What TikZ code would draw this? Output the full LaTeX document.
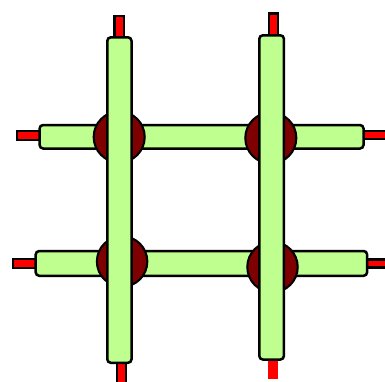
\documentclass[tikz,border=0pt]{standalone}
\definecolor{barfill}{RGB}{191,255,143}
\definecolor{hubfill}{RGB}{127,0,0}
\tikzset{
  x=1pt,y=-1pt,
  outline/.style={draw=black,line width=2.5pt},
  stub/.style={outline,fill=red},
  barstub/.style={fill=red},
  hub/.style={draw=black,line width=2.1pt,fill=hubfill},
  bar/.style={outline,fill=barfill,rounded corners=3.5pt},
}
\begin{document}
\begin{tikzpicture}
\useasboundingbox (0,0) rectangle (385,381);
\clip (0,0) rectangle (385,381);
% stubs
\draw[stub] (114.6,16) rectangle (124.1,40);
\draw[stub] (269,13.6) rectangle (278.1,40);
\draw[stub] (17,131) rectangle (42,140.1);
\draw[stub] (360,131) rectangle (392,139.1);
\draw[stub] (13,259) rectangle (40,268.1);
\draw[stub] (360,259.3) rectangle (392,267.5);
\draw[stub] (117,355) rectangle (126.1,392);
\fill[barstub] (267.7,355) rectangle (278.3,379);
% horizontal bars
\draw[bar] (39.6,125) rectangle (363.5,148.5);
\draw[bar] (35.7,251) rectangle (367.1,275.8);
% hubs
\draw[hub] (119.2,137) circle (25.5);
\draw[hub] (270.8,138) circle (25.5);
\draw[hub] (122.1,261.5) circle (25.2);
\draw[hub] (272.5,267) circle (25.2);
% vertical bars
\draw[bar] (107.3,37.3) rectangle (131.5,362.8);
\draw[bar] (259.3,35.3) rectangle (283.9,359.5);
\end{tikzpicture}
\end{document}
